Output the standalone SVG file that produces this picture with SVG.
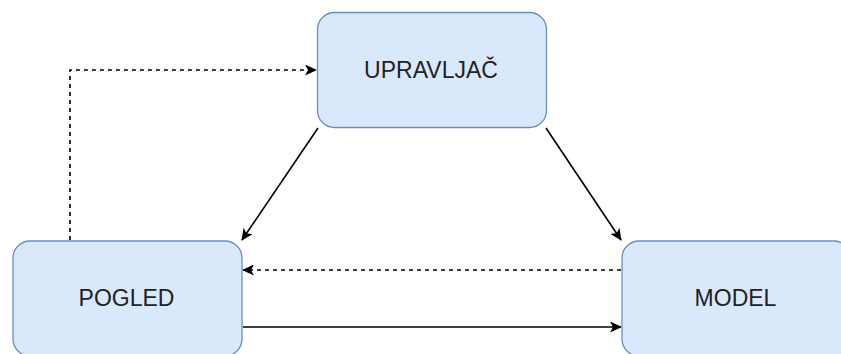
<svg xmlns="http://www.w3.org/2000/svg" width="841" height="354" viewBox="0 0 841 354">
<style>
.node{fill:#dae8fc;stroke:#6c8ebf;stroke-width:1.3}
.lbl{font-family:"Liberation Sans",Arial,sans-serif;font-size:23px;fill:#222;text-anchor:middle;dominant-baseline:central}
.edge{fill:none;stroke:#000;stroke-width:1.6}
.dash{stroke-dasharray:4 4}
</style>
<defs>
<marker id="arr" viewBox="0 0 12 11" refX="11" refY="5.5" markerWidth="12" markerHeight="11" markerUnits="userSpaceOnUse" orient="auto">
<path d="M0,0 L12,5.5 L0,11 L3,5.5 Z" fill="#000"/>
</marker>
</defs>
<g id="connectors">
<path class="edge dash" d="M70,240 V70 H316" marker-end="url(#arr)"/>
<path class="edge" d="M318,128 L242,240" marker-end="url(#arr)"/>
<path class="edge" d="M546,128 L621,240" marker-end="url(#arr)"/>
<path class="edge dash" d="M621,270 H243" marker-end="url(#arr)"/>
<path class="edge" d="M243,327 H621" marker-end="url(#arr)"/>
</g>
<g id="upravljac">
<rect class="node" x="317.5" y="12.5" width="229" height="115" rx="17"/>
<text class="lbl" x="431" y="70">UPRAVLJAČ</text>
</g>
<g id="pogled">
<rect class="node" x="13" y="241" width="229" height="115" rx="17"/>
<text class="lbl" x="126.5" y="298">POGLED</text>
</g>
<g id="model">
<rect class="node" x="622" y="241" width="229" height="115" rx="17"/>
<text class="lbl" x="735.5" y="298">MODEL</text>
</g>
</svg>
